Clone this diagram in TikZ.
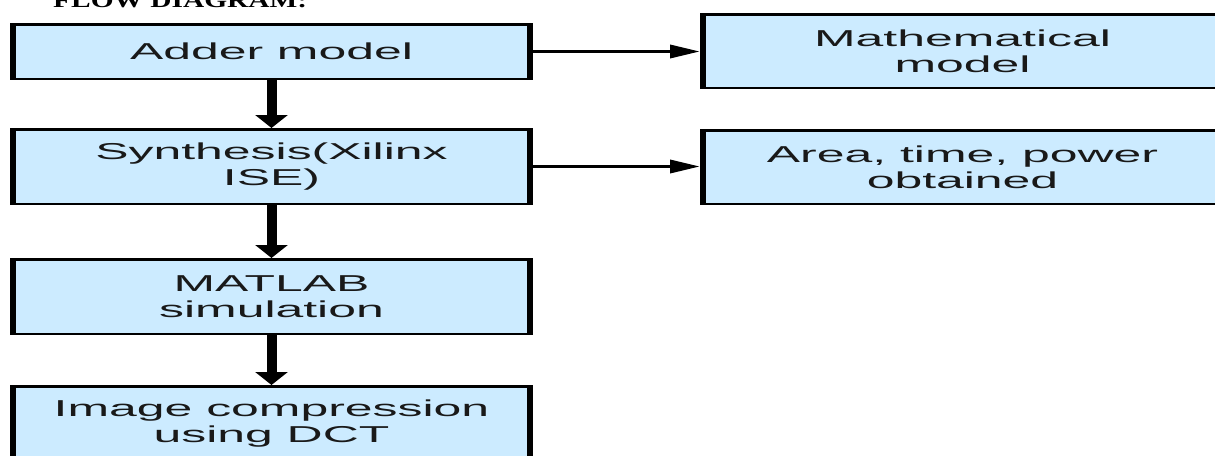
\documentclass[tikz,border=0pt]{standalone}
\usepackage{fontspec}
\usepackage{xcolor}
\usetikzlibrary{arrows.meta}
\setmainfont{Liberation Sans}
\newfontfamily\boxfont{Liberation Sans}[FakeStretch=2.17]
\newfontfamily\titlefont{Liberation Serif}[FakeStretch=1.4]
\definecolor{boxblue}{RGB}{204,235,255}
\definecolor{boxtext}{RGB}{25,25,25}

\begin{document}
\begin{tikzpicture}[x=1pt, y=-1pt,
    flowbox/.style={draw=black, line width=2.5pt, fill=boxblue, text=boxtext,
        minimum width=520.5pt, minimum height=74.5pt, inner sep=0pt, align=center,
        font=\boxfont\fontsize{23}{26}\selectfont,
        path picture={\draw[line width=9pt]
            (path picture bounding box.north west) -- (path picture bounding box.south west)
            (path picture bounding box.north east) -- (path picture bounding box.south east);}},
    downarrow/.style={line width=10pt, -{Triangle[width=32pt,length=13pt]}},
    sidearrow/.style={line width=3.5pt, -{Triangle[width=13pt,length=30pt]}}]
    \useasboundingbox (0,0) rectangle (1215,455);
    \clip (0,0) rectangle (1215,455);

    \node[anchor=base west, inner sep=0pt, font=\titlefont\bfseries\fontsize{21}{24}\selectfont] (title) at (53,7.5) {FLOW DIAGRAM:};

    \node[flowbox, minimum height=54.5pt] (adder) at (271.5,51.5) {Adder model};
    \node[flowbox] (synth) at (271.5,166.5) {Synthesis(Xilinx\\ISE)};
    \node[flowbox] (matlab) at (271.5,296.5) {MATLAB\\simulation};
    \node[flowbox] (dct) at (271.5,423.5) {Image compression\\using DCT};

    \node[flowbox, minimum width=522.5pt, minimum height=73.5pt] (mathmod) at (962.5,51) {Mathematical\\model};
    \node[flowbox, minimum width=522.5pt, minimum height=73.5pt] (result) at (962.5,167) {Area, time, power\\obtained};

    \draw[downarrow] (adder) -- (synth);
    \draw[downarrow] (synth) -- (matlab);
    \draw[downarrow] (matlab) -- (dct);
    \draw[sidearrow] (adder.east) -- (adder.east -| mathmod.west);
    \draw[sidearrow] (synth.east) -- (synth.east -| result.west);
\end{tikzpicture}
\end{document}
